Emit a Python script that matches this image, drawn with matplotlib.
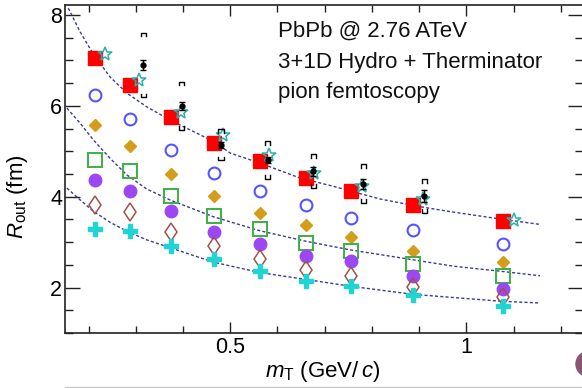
import matplotlib
matplotlib.use("Agg")
import matplotlib.pyplot as plt
from matplotlib.lines import Line2D
from matplotlib.patches import Ellipse
from matplotlib.ticker import MultipleLocator

plt.rcParams['font.family'] = ['Liberation Sans', 'DejaVu Sans']
plt.rcParams['mathtext.fontset'] = 'custom'
plt.rcParams['mathtext.rm'] = 'Liberation Sans'
plt.rcParams['mathtext.it'] = 'Liberation Sans:italic'

# model mT bins (GeV/c)
mt = [0.214, 0.287, 0.375, 0.466, 0.564, 0.660, 0.756, 0.887, 1.078]

# model Rout values (fm), one list per series
r_red = [7.05, 6.46, 5.75, 5.18, 4.78, 4.41, 4.13, 3.82, 3.47]
r_blue = [6.24, 5.71, 5.02, 4.52, 4.13, 3.82, 3.53, 3.26, 2.96]
r_orange = [5.58, 5.12, 4.51, 4.02, 3.65, 3.38, 3.12, 2.81, 2.57]
r_green = [4.81, 4.56, 4.02, 3.57, 3.29, 2.98, 2.80, 2.51, 2.25]
r_purple = [4.37, 4.12, 3.68, 3.22, 2.95, 2.69, 2.58, 2.25, 1.96]
r_brown = [3.82, 3.66, 3.22, 2.92, 2.62, 2.38, 2.26, 2.02, 1.80]
r_cyan = [3.29, 3.24, 2.91, 2.62, 2.36, 2.15, 2.04, 1.83, 1.59]

# teal stars
mt_star = [0.235, 0.307, 0.396, 0.485, 0.583, 0.678, 0.779, 0.908, 1.100]
r_star = [7.14, 6.56, 5.87, 5.36, 4.92, 4.52, 4.23, 3.95, 3.49]

# ALICE data
mt_data = [0.316, 0.397, 0.481, 0.579, 0.676, 0.782, 0.911]
r_data = [6.90, 6.00, 5.14, 4.81, 4.56, 4.29, 4.02]
stat_data = [0.11, 0.09, 0.07, 0.07, 0.10, 0.11, 0.13]
sys_data = [0.71, 0.53, 0.34, 0.41, 0.37, 0.43, 0.37]

# dashed fit curves
fit1_x = [0.157, 0.182, 0.207, 0.245, 0.281, 0.323, 0.372, 0.464, 0.500, 0.563,
          0.648, 0.718, 0.817, 0.902, 0.973, 1.065, 1.156]
fit1_y = [8.15, 7.63, 7.19, 6.64, 6.28, 5.98, 5.69, 5.22, 4.96, 4.74,
          4.41, 4.23, 3.95, 3.78, 3.66, 3.52, 3.39]
fit2_x = [0.154, 0.182, 0.210, 0.245, 0.281, 0.323, 0.372, 0.464, 0.563, 0.660,
          0.754, 0.888, 0.973, 1.072, 1.156]
fit2_y = [5.95, 5.62, 5.25, 4.85, 4.48, 4.17, 3.93, 3.56, 3.25, 3.02,
          2.83, 2.61, 2.47, 2.36, 2.26]
fit3_x = [0.154, 0.182, 0.210, 0.245, 0.281, 0.323, 0.372, 0.464, 0.563, 0.660,
          0.754, 0.888, 1.072, 1.156]
fit3_y = [4.19, 3.93, 3.68, 3.44, 3.24, 3.05, 2.88, 2.56, 2.33, 2.18,
          2.03, 1.85, 1.70, 1.66]

fig = plt.figure(figsize=(5.82, 3.88), dpi=100)
ax = fig.add_axes([65 / 582, 55 / 388, 518 / 582, 328 / 388])

fit_style = dict(color='#3a3aa0', lw=1.0, ls=(0, (2.2, 1.6)), zorder=2)
for fx, fy in [(fit1_x, fit1_y), (fit2_x, fit2_y), (fit3_x, fit3_y)]:
    ax.plot(fx, fy, **fit_style)

ax.plot(mt, r_red, 's', ms=10, color='#ff0000', mec='#ff0000', zorder=3)
ax.plot(mt, r_blue, 'o', ms=8.5, mfc='none', mec='#5555ff', mew=1.5, zorder=3)
ax.plot(mt, r_orange, 'D', ms=6.5, color='#d39e1b', zorder=3)
ax.plot(mt, r_green, 's', ms=9.5, mfc='none', mec='#3cb043', mew=1.4, zorder=3)
ax.plot(mt, r_purple, 'o', ms=9, color='#9b48f2', zorder=3)
ax.plot(mt, r_brown, 'd', ms=9.5, mfc='none', mec='#a0524a', mew=1.1, zorder=3)
ax.plot(mt, r_cyan, 'P', ms=9.5, color='#22d3d3', mec='#22d3d3', zorder=3)
ax.plot(mt_star, r_star, '*', ms=10, mfc='none', mec='#2ab0b0', mew=1.1, zorder=4)

# data: statistical errors
ax.errorbar(mt_data, r_data, yerr=stat_data, fmt='o', ms=3.5, color='black',
            elinewidth=1.0, capsize=2.5, capthick=1.0, zorder=5)
# data: systematic brackets
dx = 0.006
dh = 0.08
for x, y, s in zip(mt_data, r_data, sys_data):
    ax.plot([x - dx, x - dx, x + dx, x + dx], [y + s - dh, y + s, y + s, y + s - dh],
            color='black', lw=1.0, zorder=5)
    ax.plot([x - dx, x - dx, x + dx, x + dx], [y - s + dh, y - s, y - s, y - s + dh],
            color='black', lw=1.0, zorder=5)

ax.set_xlim(0.15, 1.247)
ax.set_ylim(1.0, 8.22)
ax.xaxis.set_major_locator(MultipleLocator(0.5))
ax.xaxis.set_minor_locator(MultipleLocator(0.1))
ax.yaxis.set_major_locator(MultipleLocator(2))
ax.yaxis.set_minor_locator(MultipleLocator(0.5))
ax.set_xticks([0.5, 1.0])
ax.set_xticklabels(['0.5', '1'])
ax.set_yticks([2, 4, 6, 8])
ax.set_yticklabels(['2', '4', '6', '8'])

ax.tick_params(which='both', direction='in', top=True, right=True, labelsize=15.5,
               width=1.0, color='#222222')
ax.tick_params(axis='x', which='major', length=8, pad=3)
ax.tick_params(axis='x', which='minor', length=5)
ax.tick_params(axis='y', which='major', length=11, pad=2)
ax.tick_params(axis='y', which='minor', length=6)
for sp in ax.spines.values():
    sp.set_linewidth(1.2)
    sp.set_color('#222222')

ax.set_xlabel(r'$m_{\rm T}$ (GeV/$\,c$)', fontsize=16)
ax.xaxis.set_label_coords(0.497, -0.079)
ax.set_ylabel(r'$R_{\rm out}$ (fm)', fontsize=16)
ax.yaxis.set_label_coords(-0.068, 0.415)

text_lines = ['PbPb @ 2.76 ATeV', '3+1D Hydro + Therminator', 'pion femtoscopy']
for i, t in enumerate(text_lines):
    ax.text(0.412, 0.902 - 0.093 * i, t, transform=ax.transAxes, fontsize=16,
            va='baseline', ha='left', color='#111111')

# slide decorations
fig.add_artist(Line2D([65 / 582, 1.0], [1.5 / 388, 1.5 / 388], transform=fig.transFigure,
                      color='#c8c8c8', lw=1.0))
fig.add_artist(Ellipse((588.5 / 582, 24 / 388), 25 / 582, 25 / 388,
                       transform=fig.transFigure, color='#8b5470'))

fig.savefig('out.png', dpi=100)
